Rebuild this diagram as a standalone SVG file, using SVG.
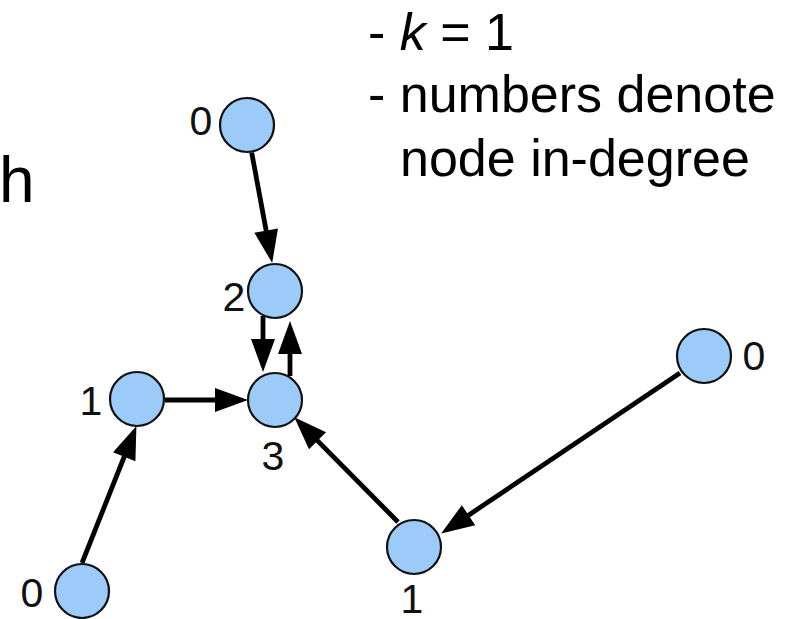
<svg xmlns="http://www.w3.org/2000/svg" width="796" height="619" viewBox="0 0 796 619">
<style>
.node{fill:#9ccbfa;stroke:#111;stroke-width:2.2}
.lbl{font-family:"Liberation Sans",Arial,sans-serif;font-size:41px;fill:#111;text-anchor:middle}
.note{font-family:"Liberation Sans",Arial,sans-serif;font-size:52px;fill:#000}
.edge{stroke:#000;stroke-width:4.8;fill:none}
</style>
<defs>
<marker id="arr" markerUnits="userSpaceOnUse" markerWidth="34" markerHeight="24" refX="4" refY="12" orient="auto" overflow="visible">
<path d="M0,0 L33,12 L0,24 z" fill="#000"/>
</marker>
</defs>
<rect width="796" height="619" fill="#fff"/>
<text class="note" x="-1" y="202" style="font-size:64px">h</text>
<text class="note" x="368" y="50">- <tspan font-style="italic">k</tspan> = 1</text>
<text class="note" x="368" y="112">- numbers denote</text>
<text class="note" x="400" y="176">node in-degree</text>
<g id="connectors">
<line class="edge" x1="251.7" y1="152.6" x2="266.9" y2="234.5" marker-end="url(#arr)"/>
<line class="edge" x1="263" y1="316" x2="263" y2="343" marker-end="url(#arr)"/>
<line class="edge" x1="290" y1="376" x2="290" y2="350" marker-end="url(#arr)"/>
<line class="edge" x1="165" y1="400" x2="219" y2="400" marker-end="url(#arr)"/>
<line class="edge" x1="82" y1="563" x2="125.7" y2="453" marker-end="url(#arr)"/>
<line class="edge" x1="680" y1="373" x2="465.2" y2="517.4" marker-end="url(#arr)"/>
<line class="edge" x1="398" y1="522" x2="314.7" y2="437.9" marker-end="url(#arr)"/>
</g>
<g id="node-top0"><circle class="node" cx="247" cy="125" r="27"/><text class="lbl" x="201" y="135">0</text></g>
<g id="node-2"><circle class="node" cx="275" cy="291" r="27"/><text class="lbl" x="234" y="311">2</text></g>
<g id="node-3"><circle class="node" cx="275" cy="400" r="27"/><text class="lbl" x="273" y="470">3</text></g>
<g id="node-left1"><circle class="node" cx="137" cy="399" r="27"/><text class="lbl" x="91" y="415">1</text></g>
<g id="node-bl0"><circle class="node" cx="82" cy="591" r="27"/><text class="lbl" x="32" y="607">0</text></g>
<g id="node-right0"><circle class="node" cx="704" cy="356" r="27"/><text class="lbl" x="754" y="370">0</text></g>
<g id="node-bottom1"><circle class="node" cx="414" cy="547" r="27"/><text class="lbl" x="412" y="613">1</text></g>
</svg>
